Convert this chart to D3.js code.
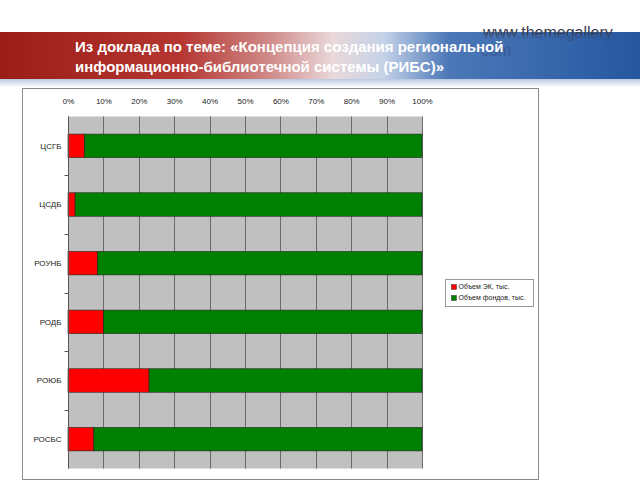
<!DOCTYPE html>
<html><head><meta charset="utf-8">
<script src="https://cdn.jsdelivr.net/npm/d3@7"></script>
<style>body{margin:0;background:#fff;}svg{display:block;}</style>
</head><body>
<svg id="c" width="640" height="480"></svg>
<script>
const titleLines = ["Из доклада по теме: «Концепция создания региональной", "информационно-библиотечной системы (РИБС)»"];
const categories = ["ЦСГБ", "ЦСДБ", "РОУНБ", "РОДБ", "РОЮБ", "РОСБС"];
const ekValues = [4.6, 2.0, 8.3, 10.0, 22.9, 7.3];
const fondValues = [95.4, 98.0, 91.7, 90.0, 77.1, 92.7];
const seriesNames = ["Объем ЭК, тыс.", "Объем фондов, тыс."];
const seriesColors = ["#ff0000", "#008000"];
const tickValues = [0, 0.1, 0.2, 0.3, 0.4, 0.5, 0.6, 0.7, 0.8, 0.9, 1];

const svg = d3.select("#c");
const defs = svg.append("defs");
const g1 = defs.append("linearGradient").attr("id", "band").attr("x1", "0").attr("x2", "1").attr("y1", "0").attr("y2", "0");
[[0, "#9c1c16"], [0.28, "#b53530"], [0.42, "#cf8a88"], [0.52, "#ead8da"], [0.6, "#c4d2e8"], [0.7, "#4c78b8"], [1, "#2557a0"]]
  .forEach(([o, c]) => g1.append("stop").attr("offset", o).attr("stop-color", c));
const g2 = defs.append("linearGradient").attr("id", "shade").attr("x1", "0").attr("x2", "0").attr("y1", "0").attr("y2", "1");
g2.append("stop").attr("offset", 0).attr("stop-color", "#b8c8e0");
g2.append("stop").attr("offset", 1).attr("stop-color", "#ffffff");
defs.append("clipPath").attr("id", "rightclip").append("rect").attr("x", 440).attr("y", 0).attr("width", 200).attr("height", 100);

// header band
svg.append("rect").attr("x", 0).attr("y", 79).attr("width", 640).attr("height", 8).attr("fill", "url(#shade)");
svg.append("rect").attr("x", 0).attr("y", 32).attr("width", 640).attr("height", 47).attr("fill", "url(#band)");
svg.append("text").attr("x", 483).attr("y", 38).attr("font-family", "Liberation Sans, Arial, sans-serif")
  .attr("font-size", 16).attr("fill", "#3a3a4a").text("www.themegallery.");
svg.append("text").attr("x", 481).attr("y", 56).attr("font-family", "Liberation Sans, Arial, sans-serif")
  .attr("font-size", 16).attr("fill", "#2a3a6a").text("com");
svg.append("rect").attr("x", 0).attr("y", 35).attr("width", 640).attr("height", 44).attr("fill", "url(#band)")
  .attr("opacity", 0.6).attr("clip-path", "url(#rightclip)");
titleLines.forEach((t, i) => {
  svg.append("text").attr("x", 75).attr("y", 52 + i * 20).attr("font-family", "Liberation Sans, Arial, sans-serif")
    .attr("font-size", 15).attr("font-weight", "bold").attr("fill", "#ffffff").text(t);
});

// chart frame
svg.append("rect").attr("x", 22.5).attr("y", 88.5).attr("width", 516).attr("height", 391).attr("fill", "#fff").attr("stroke", "#8a8a8a");

const x = d3.scaleLinear().domain([0, 1]).range([68, 422]);
const y = d3.scaleBand().domain(categories).range([116.5, 468.5]).paddingInner(0.6).paddingOuter(0.3);
const yb = d3.scaleBand().domain(categories).range([116.5, 468.5]);

const data = categories.map((c, i) => ({cat: c, ek: ekValues[i], fond: fondValues[i]}));
const stack = d3.stack().keys(["ek", "fond"]).offset(d3.stackOffsetExpand);
const series = stack(data);

svg.append("rect").attr("x", x(0)).attr("y", 116.5).attr("width", x(1) - x(0)).attr("height", 352).attr("fill", "#c0c0c0");
svg.append("g").selectAll("line").data(tickValues).join("line")
  .attr("x1", d => Math.round(x(d)) + 0.5).attr("x2", d => Math.round(x(d)) + 0.5)
  .attr("y1", 116.5).attr("y2", 468.5).attr("stroke", "#6a6a6a").attr("stroke-width", 1);

svg.append("g").selectAll("g").data(series).join("g").attr("fill", (d, i) => seriesColors[i])
  .selectAll("rect").data(d => d).join("rect")
  .attr("x", d => x(d[0])).attr("width", d => x(d[1]) - x(d[0]))
  .attr("y", d => y(d.data.cat)).attr("height", y.bandwidth())
  .attr("stroke", "#222").attr("stroke-width", 0.6);

// x axis on top
const xAxis = d3.axisTop(x).tickValues(tickValues).tickFormat(d3.format(".0%")).tickSize(0).tickPadding(8);
const gx = svg.append("g").attr("transform", "translate(0,112)").call(xAxis);
gx.select(".domain").remove();
gx.selectAll("text").attr("font-family", "Liberation Sans, Arial, sans-serif").attr("font-size", 8).attr("fill", "#222");

// y axis
const gy = svg.append("g").attr("transform", "translate(68.5,0)");
gy.append("line").attr("y1", 116.5).attr("y2", 468.5).attr("stroke", "#555");
gy.selectAll("line.t").data(categories.slice(1)).join("line").attr("class", "t")
  .attr("x1", -4).attr("x2", 0).attr("y1", d => Math.round(yb(d)) + 0.5).attr("y2", d => Math.round(yb(d)) + 0.5).attr("stroke", "#555");
gy.selectAll("text").data(categories).join("text")
  .attr("x", -7).attr("y", d => y(d) + y.bandwidth() / 2).attr("dy", "0.35em").attr("text-anchor", "end")
  .attr("font-family", "Liberation Sans, Arial, sans-serif").attr("font-size", 8).attr("fill", "#222").text(d => d);

// legend
const lg = svg.append("g").attr("transform", "translate(445.5,279.5)");
lg.append("rect").attr("width", 88).attr("height", 27).attr("fill", "#fff").attr("stroke", "#999");
seriesNames.forEach((n, i) => {
  lg.append("rect").attr("x", 6).attr("y", 5 + i * 11).attr("width", 5).attr("height", 5).attr("fill", seriesColors[i]).attr("stroke", "#333").attr("stroke-width", 0.5);
  lg.append("text").attr("x", 13).attr("y", 7.5 + i * 11).attr("dy", "0.35em").attr("font-family", "Liberation Sans, Arial, sans-serif")
    .attr("font-size", 7).attr("fill", "#222").text(n);
});
</script>
</body></html>
